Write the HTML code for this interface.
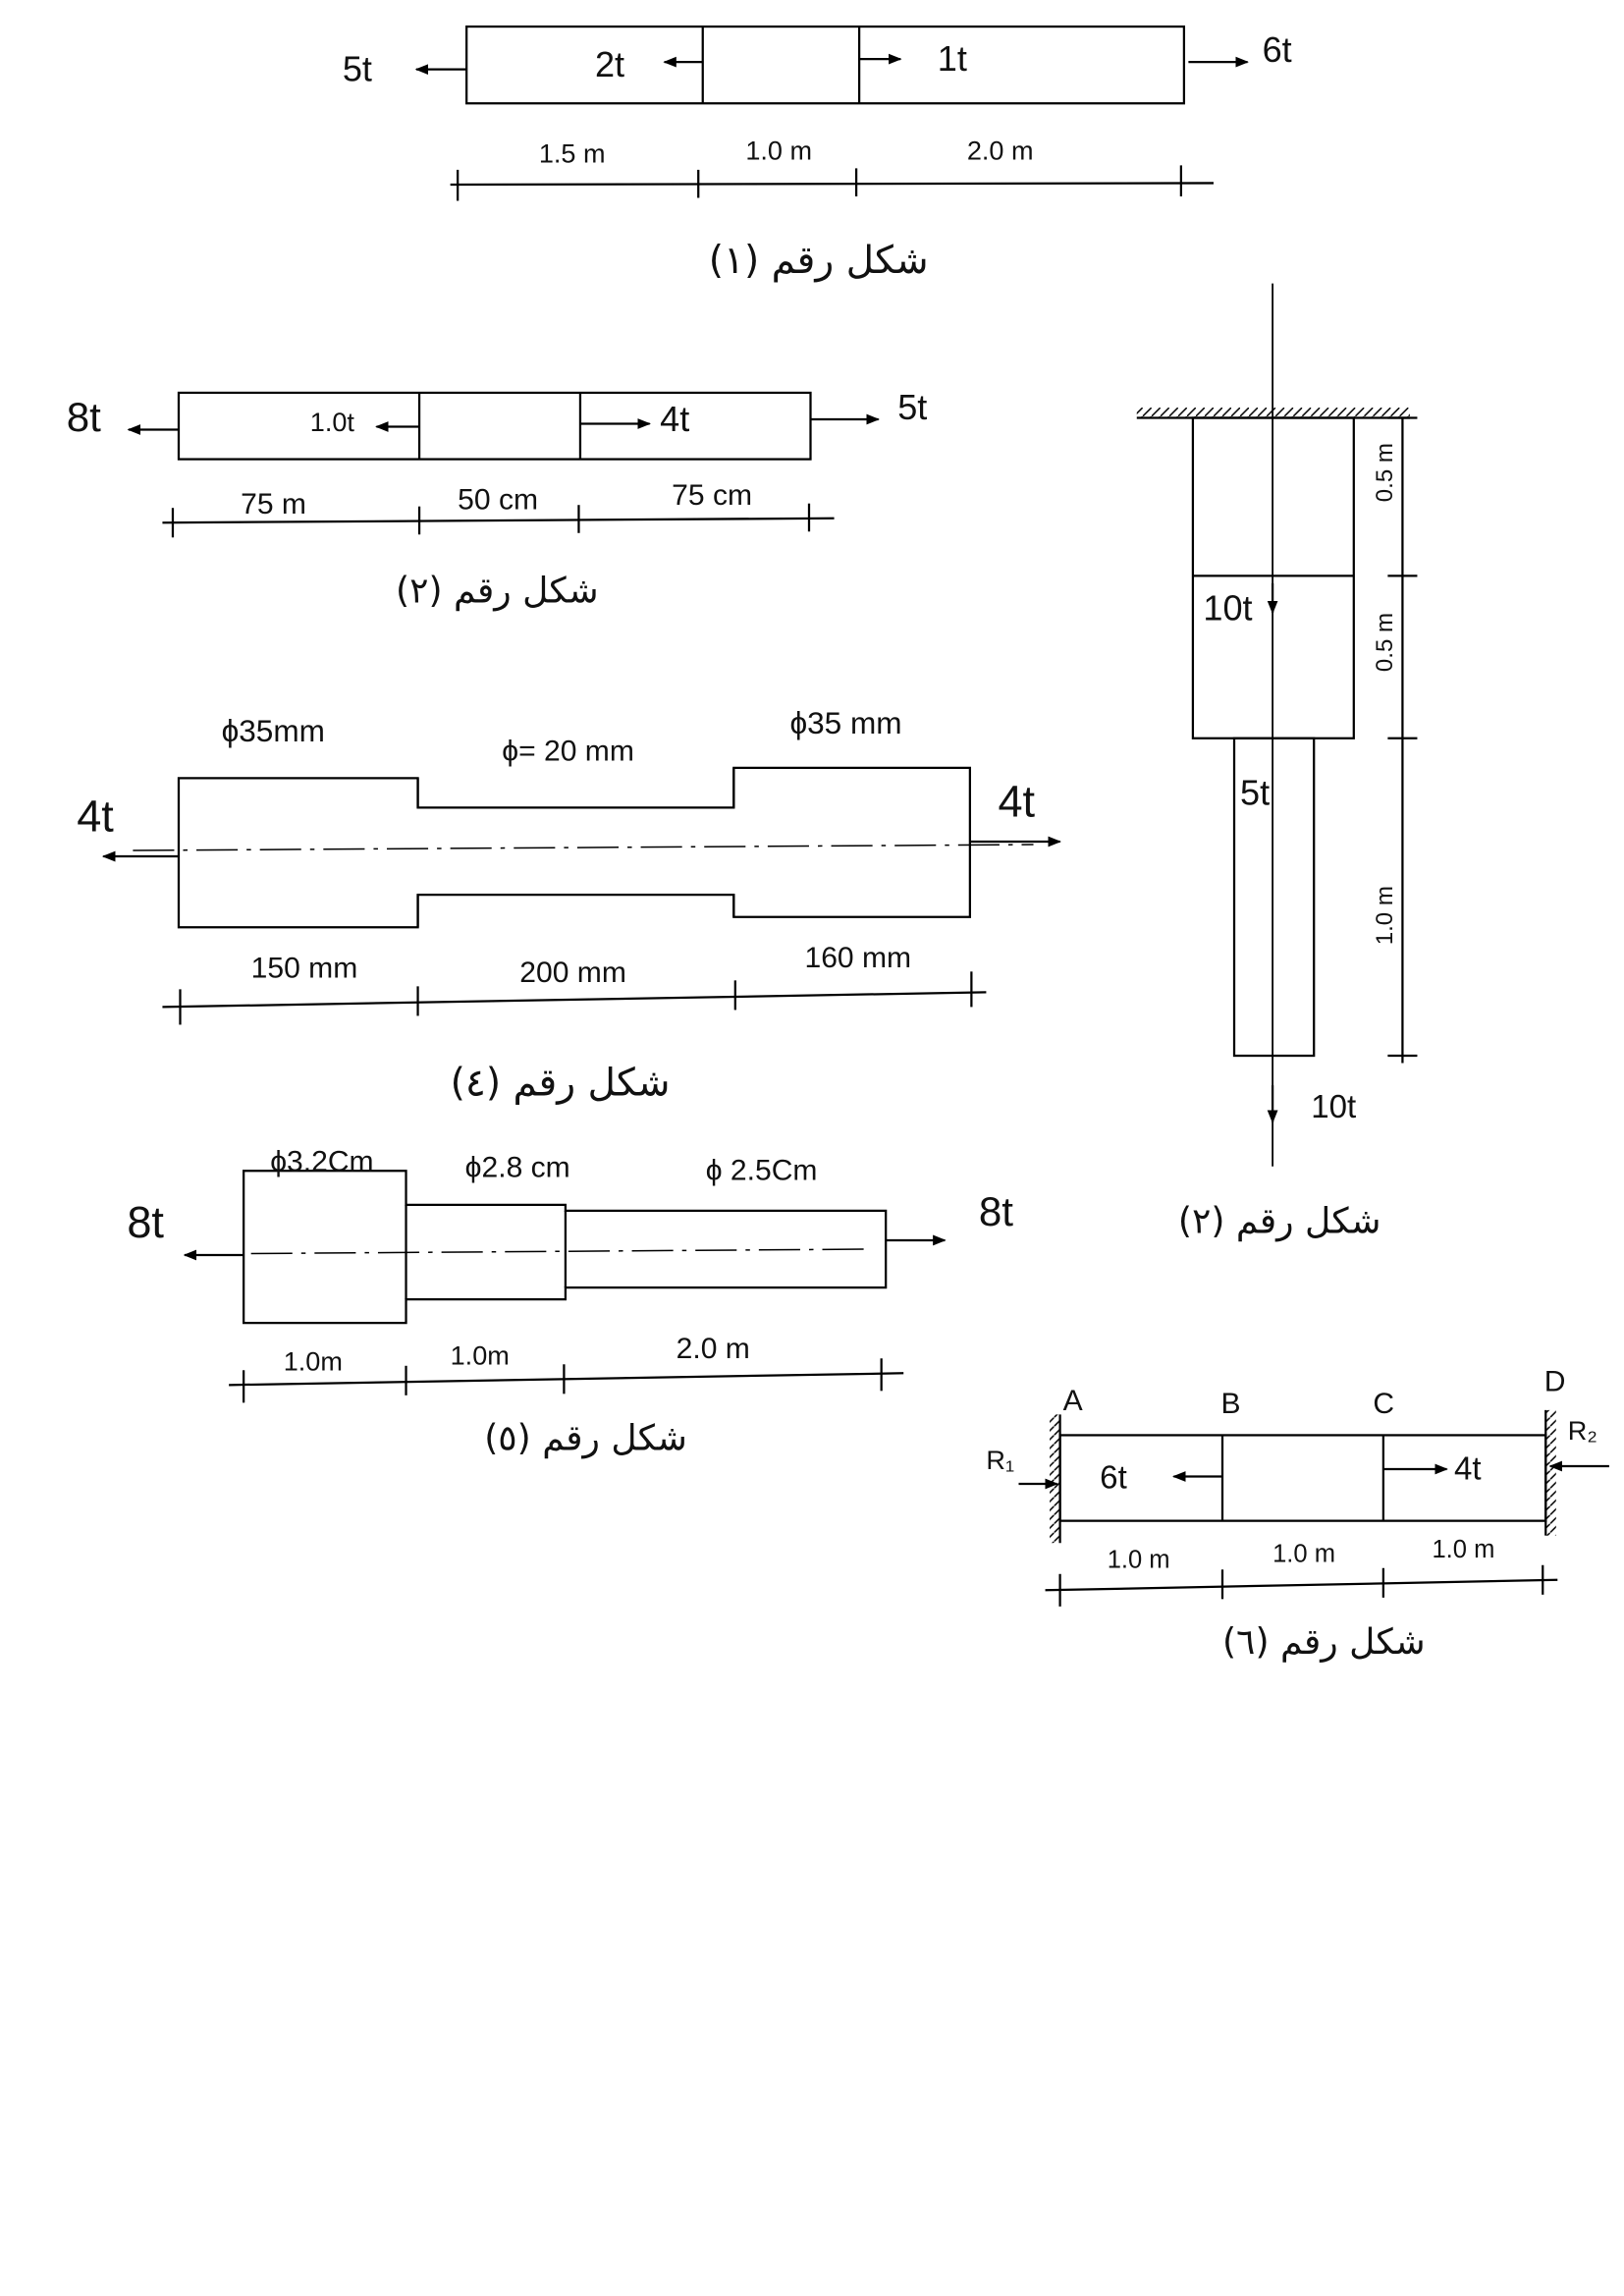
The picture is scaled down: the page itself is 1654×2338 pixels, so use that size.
<!DOCTYPE html>
<html><head><meta charset="utf-8"><style>
html,body{margin:0;padding:0;background:#fff;}
svg{display:block;}
text{font-family:"Liberation Sans","Noto Sans CJK SC",sans-serif;fill:#111;}
.ar{font-family:"DejaVu Sans","Liberation Sans",sans-serif;}
</style></head><body>
<svg width="1654" height="2338" viewBox="0 0 1100 1555" xmlns="http://www.w3.org/2000/svg">
<defs>
<marker id="ah" viewBox="0 0 10 10" refX="9" refY="5" markerWidth="6" markerHeight="6" orient="auto"><path d="M0,1 L10,5 L0,9 z" fill="#000"/></marker>
<pattern id="hat" width="6" height="6" patternUnits="userSpaceOnUse"><path d="M0,6 L6,0" stroke="#000" stroke-width="1"/></pattern>
</defs>
<g stroke="#000" stroke-width="1.5" fill="none">
<!-- Fig 1 -->
<rect x="316" y="18" width="486" height="52"/>
<line x1="476" y1="18" x2="476" y2="70"/><line x1="582" y1="18" x2="582" y2="70"/>
<line x1="316" y1="47" x2="282" y2="47" marker-end="url(#ah)"/>
<line x1="476" y1="42" x2="450" y2="42" marker-end="url(#ah)"/>
<line x1="582" y1="40" x2="610" y2="40" marker-end="url(#ah)"/>
<line x1="805" y1="42" x2="845" y2="42" marker-end="url(#ah)"/>
<line x1="305" y1="125" x2="822" y2="124"/>
<line x1="310" y1="115" x2="310" y2="136"/><line x1="473" y1="115" x2="473" y2="134"/><line x1="580" y1="114" x2="580" y2="133"/><line x1="800" y1="112" x2="800" y2="133"/>
<!-- Fig 2 -->
<rect x="121" y="266" width="428" height="45"/>
<line x1="284" y1="266" x2="284" y2="311"/><line x1="393" y1="266" x2="393" y2="311"/>
<line x1="121" y1="291" x2="87" y2="291" marker-end="url(#ah)"/>
<line x1="284" y1="289" x2="255" y2="289" marker-end="url(#ah)"/>
<line x1="393" y1="287" x2="440" y2="287" marker-end="url(#ah)"/>
<line x1="549" y1="284" x2="595" y2="284" marker-end="url(#ah)"/>
<line x1="110" y1="354" x2="565" y2="351"/>
<line x1="117" y1="344" x2="117" y2="364"/><line x1="284" y1="343" x2="284" y2="362"/><line x1="392" y1="342" x2="392" y2="361"/><line x1="548" y1="341" x2="548" y2="360"/>
<!-- Fig 4 -->
<path d="M283,527 H121 V628 H283 V606 H497 V621 H657 V520 H497 V547 H283 Z"/>
<line x1="283" y1="527" x2="283" y2="547"/><line x1="497" y1="547" x2="497" y2="520"/>
<line x1="283" y1="606" x2="283" y2="628"/><line x1="497" y1="606" x2="497" y2="621"/>
<line x1="90" y1="576" x2="700" y2="572" stroke-width="1" stroke-dasharray="28,6,3,6"/>
<line x1="121" y1="580" x2="70" y2="580" marker-end="url(#ah)"/>
<line x1="657" y1="570" x2="718" y2="570" marker-end="url(#ah)"/>
<line x1="110" y1="682" x2="668" y2="672"/>
<line x1="122" y1="670" x2="122" y2="694"/><line x1="283" y1="668" x2="283" y2="688"/><line x1="498" y1="664" x2="498" y2="684"/><line x1="658" y1="658" x2="658" y2="682"/>
<!-- Fig 5 -->
<path d="M165,793 V896 H275 V880 H383 V872 H600 V820 H383 V816 H275 V793 Z"/>
<line x1="275" y1="816" x2="275" y2="880"/><line x1="383" y1="820" x2="383" y2="872"/>
<line x1="170" y1="849" x2="590" y2="846" stroke-width="1" stroke-dasharray="28,6,3,6"/>
<line x1="165" y1="850" x2="125" y2="850" marker-end="url(#ah)"/>
<line x1="600" y1="840" x2="640" y2="840" marker-end="url(#ah)"/>
<line x1="155" y1="938" x2="612" y2="930"/>
<line x1="165" y1="928" x2="165" y2="950"/><line x1="275" y1="925" x2="275" y2="945"/><line x1="382" y1="924" x2="382" y2="944"/><line x1="597" y1="920" x2="597" y2="942"/>
<!-- Fig 3 -->
<line x1="862" y1="192" x2="862" y2="790" stroke-width="1.2"/>
<line x1="770" y1="283" x2="955" y2="283"/>
<rect x="770" y="276" width="185" height="7" fill="url(#hat)" stroke="none"/>
<rect x="808" y="283" width="109" height="217"/>
<line x1="808" y1="390" x2="917" y2="390"/>
<rect x="836" y="500" width="54" height="215"/>
<line x1="862" y1="395" x2="862" y2="415" marker-end="url(#ah)"/>
<line x1="862" y1="735" x2="862" y2="760" marker-end="url(#ah)"/>
<line x1="950" y1="283" x2="950" y2="720"/>
<line x1="940" y1="283" x2="960" y2="283"/><line x1="940" y1="390" x2="960" y2="390"/><line x1="940" y1="500" x2="960" y2="500"/><line x1="940" y1="715" x2="960" y2="715"/>
<!-- Fig 6 -->
<rect x="718" y="972" width="329" height="58"/>
<line x1="828" y1="972" x2="828" y2="1030"/><line x1="937" y1="972" x2="937" y2="1030"/>
<line x1="718" y1="958" x2="718" y2="1045"/><line x1="1047" y1="955" x2="1047" y2="1040"/>
<rect x="711" y="958" width="7" height="87" fill="url(#hat)" stroke="none"/>
<rect x="1047" y="955" width="7" height="85" fill="url(#hat)" stroke="none"/>
<line x1="690" y1="1005" x2="716" y2="1005" marker-end="url(#ah)"/>
<line x1="1090" y1="993" x2="1050" y2="993" marker-end="url(#ah)"/>
<line x1="828" y1="1000" x2="795" y2="1000" marker-end="url(#ah)"/>
<line x1="937" y1="995" x2="980" y2="995" marker-end="url(#ah)"/>
<line x1="708" y1="1077" x2="1055" y2="1070"/>
<line x1="718" y1="1066" x2="718" y2="1088"/><line x1="828" y1="1063" x2="828" y2="1083"/><line x1="937" y1="1062" x2="937" y2="1082"/><line x1="1045" y1="1060" x2="1045" y2="1080"/>
</g>
<g font-size="24">
<text x="232" y="55">5t</text><text x="403" y="52">2t</text><text x="635" y="48">1t</text><text x="855" y="42">6t</text>
<text x="365" y="110" font-size="18">1.5 m</text><text x="505" y="108" font-size="18">1.0 m</text><text x="655" y="108" font-size="18">2.0 m</text>
<text class="ar" x="480" y="185" font-size="26">(١) شكل رقم</text>

<text x="45" y="292" font-size="28">8t</text><text x="210" y="292" font-size="18">1.0t</text><text x="447" y="292">4t</text><text x="608" y="284">5t</text>
<text x="163" y="348" font-size="20">75 m</text><text x="310" y="345" font-size="20">50 cm</text><text x="455" y="342" font-size="20">75 cm</text>
<text class="ar" x="268" y="408" font-size="24">(٢) شكل رقم</text>

<text x="150" y="502" font-size="21">ϕ35mm</text><text x="340" y="515" font-size="20">ϕ= 20 mm</text><text x="535" y="497" font-size="21">ϕ35 mm</text>
<text x="52" y="563" font-size="30">4t</text><text x="676" y="553" font-size="30">4t</text>
<text x="170" y="662" font-size="20">150 mm</text><text x="352" y="665" font-size="20">200 mm</text><text x="545" y="655" font-size="20">160 mm</text>
<text class="ar" x="305" y="742" font-size="26">(٤) شكل رقم</text>

<text x="183" y="793" font-size="20">ϕ3.2Cm</text><text x="315" y="797" font-size="20">ϕ2.8 cm</text><text x="478" y="799" font-size="20">ϕ 2.5Cm</text>
<text x="86" y="838" font-size="30">8t</text><text x="663" y="830" font-size="28">8t</text>
<text x="192" y="928" font-size="18">1.0m</text><text x="305" y="924" font-size="18">1.0m</text><text x="458" y="920" font-size="20">2.0 m</text>
<text class="ar" x="328" y="982" font-size="24">(٥) شكل رقم</text>

<text x="815" y="420">10t</text><text x="840" y="545">5t</text><text x="888" y="757" font-size="22">10t</text>
<text x="943" y="340" font-size="16" transform="rotate(-90 943 340)">0.5 m</text>
<text x="943" y="455" font-size="16" transform="rotate(-90 943 455)">0.5 m</text>
<text x="943" y="640" font-size="16" transform="rotate(-90 943 640)">1.0 m</text>
<text class="ar" x="798" y="835" font-size="24">(٢) شكل رقم</text>

<text x="720" y="955" font-size="20">A</text><text x="827" y="957" font-size="20">B</text><text x="930" y="957" font-size="20">C</text><text x="1046" y="942" font-size="20">D</text>
<text x="668" y="995" font-size="18">R₁</text><text x="1062" y="975" font-size="18">R₂</text>
<text x="745" y="1008" font-size="22">6t</text><text x="985" y="1002" font-size="22">4t</text>
<text x="750" y="1062" font-size="17">1.0 m</text><text x="862" y="1058" font-size="17">1.0 m</text><text x="970" y="1055" font-size="17">1.0 m</text>
<text class="ar" x="828" y="1120" font-size="24">(٦) شكل رقم</text>
</g>
</svg>
</body></html>
